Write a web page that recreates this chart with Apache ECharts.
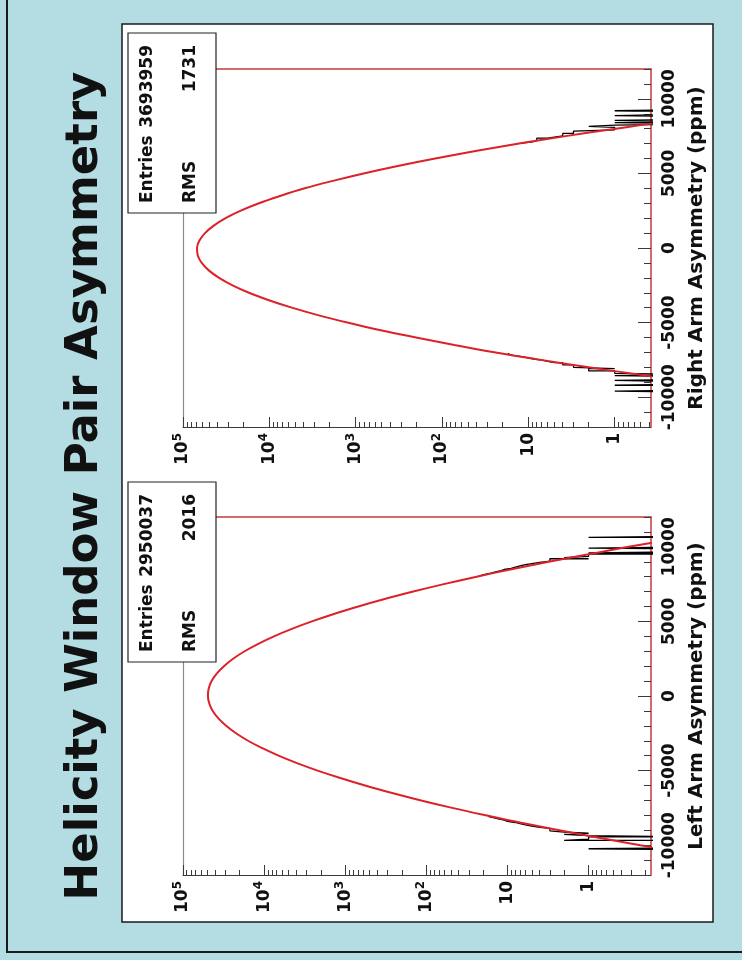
<!DOCTYPE html>
<html>
<head>
<meta charset="utf-8">
<script src="https://cdn.jsdelivr.net/npm/echarts@6/dist/echarts.min.js"></script>
<style>
html,body{margin:0;padding:0;background:#b4dde3;}
#c{width:742px;height:960px;}
</style>
</head>
<body>
<div id="c"></div>
<script>
// ---------- text ----------
const pageTitle = 'Helicity Window Pair Asymmetry';
const rightAxisTitle = 'Right Arm Asymmetry (ppm)';
const leftAxisTitle = 'Left Arm Asymmetry (ppm)';
const rightStats = { entries: '3693959', rms: '1731' };
const leftStats = { entries: '2950037', rms: '2016' };

// ---------- tick values ----------
const asymMajorTicks = [-10000, -5000, 0, 5000, 10000];
const asymMinorTicks = [-12000, -11000, -10000, -9000, -8000, -7000, -6000, -5000, -4000, -3000, -2000, -1000,
  0, 1000, 2000, 3000, 4000, 5000, 6000, 7000, 8000, 9000, 10000, 11000, 12000];
const logDecadeTicks = [1, 10, 100, 1000, 10000, 100000];
const logMinorTicks = [0.2, 0.3, 0.4, 0.5, 0.6, 0.7, 0.8, 0.9,
  2, 3, 4, 5, 6, 7, 8, 9,
  20, 30, 40, 50, 60, 70, 80, 90,
  200, 300, 400, 500, 600, 700, 800, 900,
  2000, 3000, 4000, 5000, 6000, 7000, 8000, 9000,
  20000, 30000, 40000, 50000, 60000, 70000, 80000, 90000];
const asymRange = [-12000, 12000];
const rightCountRange = [0.38, 100000];
const leftCountRange = [0.17, 100000];

// ---------- fit curves ----------
const rightFitAsym = [-9500, -9000, -8500, -8000, -7500, -7000, -6500, -6000, -5500, -5000, -4500, -4000, -3500,
  -3000, -2500, -2000, -1500, -1000, -500, 0, 500, 1000, 1500, 2000, 2500, 3000, 3500, 4000, 4500, 5000,
  5500, 6000, 6500, 7000, 7500, 8000, 8500, 9000];
const rightFitCounts = [0.025, 0.12, 0.5, 2.0, 7.1, 24, 72, 200, 530, 1250, 2740, 5500, 10100,
  17200, 26700, 38200, 50300, 60700, 67400, 68800, 64500, 55600, 44000, 32100, 21400, 13200, 7400, 3900, 1840, 810,
  325, 120, 41, 12.8, 3.7, 0.97, 0.24, 0.05];

const leftFitAsym = [-11000, -10500, -10000, -9500, -9000, -8500, -8000, -7500, -7000, -6500, -6000, -5500, -5000,
  -4500, -4000, -3500, -3000, -2500, -2000, -1500, -1000, -500, 0, 500, 1000, 1500, 2000, 2500, 3000, 3500,
  4000, 4500, 5000, 5500, 6000, 6500, 7000, 7500, 8000, 8500, 9000, 9500, 10000, 10500, 11000];
const leftFitCounts = [0.018, 0.065, 0.23, 0.75, 2.3, 6.8, 18.5, 48, 116, 264, 570, 1150, 2190,
  3940, 6640, 10500, 15800, 22200, 29400, 36600, 43000, 47400, 49300, 48200, 44400, 38400, 31300, 24100, 17400, 11800,
  7560, 4550, 2580, 1380, 690, 327, 145, 61, 24, 8.9, 3.1, 1.0, 0.32, 0.092, 0.025];

// ---------- histogram tails (80 ppm bins) ----------
const binWidth = 80;
const rightTopTailStart = 7040;
const rightTopTailCounts = [12, 9, 8, 8, 6, 5, 4, 4, 3, 3, 3, 1, 1, 1, 2, 1, 0, 1, 0, 1, 0, 0, 0, 1, 0, 0, 0, 1, 0];
const rightBottomTailStart = -9680;
const rightBottomTailCounts = [0, 1, 0, 0, 0, 0, 1, 0, 0, 0, 1, 0, 0, 0, 1, 0, 1, 1, 2, 2, 1, 3, 3, 4, 4, 5, 6, 7, 9, 10, 12, 15, 17];
const leftTopTailStart = 8000;
const leftTopTailCounts = [23, 21, 19, 16, 14, 12, 11, 9, 8, 7, 6, 5, 4, 3, 3, 1, 2, 1, 1, 0, 1, 0, 0, 0, 1, 0, 0, 0, 0, 0, 0, 0, 0, 1, 0];
const leftBottomTailStart = -10320;
const leftBottomTailCounts = [0, 1, 0, 0, 0, 0, 0, 0, 2, 1, 1, 0, 1, 2, 1, 2, 3, 3, 3, 4, 5, 6, 7, 8, 10, 11, 13, 15, 17];

// ---------- helpers ----------
const FONT = '"DejaVu Sans", "Liberation Sans", sans-serif';
const RED = '#dc2128';
const FRAME_RED = '#c23a3f';

function zipPairs(counts, asym) { return counts.map((c, i) => [c, asym[i]]); }
function stepPoints(start, counts, zeroValue) {
  const pts = [];
  counts.forEach((c, i) => {
    const v = c > 0 ? c : zeroValue;
    const lo = start + i * binWidth;
    pts.push([v, lo], [v, lo + binWidth]);
  });
  return pts;
}
function fmtLog(v) {
  const n = Math.round(Math.log10(v));
  if (n === 0) return '1';
  if (n === 1) return '10';
  return '10{sup|' + n + '}';
}

const gridRects = [
  { left: 183, top: 69, width: 468, height: 358 },
  { left: 183, top: 517, width: 468, height: 358 }
];

function makeXAxes(gridIndex, range) {
  return [
    {
      gridIndex, type: 'log', inverse: true, min: range[0], max: range[1], position: 'bottom', z: 3,
      axisLine: { show: true, onZero: false, lineStyle: { color: '#3a3a3a', width: 1 } },
      axisTick: { show: true, inside: true, length: 10, customValues: logDecadeTicks, lineStyle: { color: '#3a3a3a', width: 1 } },
      axisLabel: {
        show: true, rotate: 90, margin: 6, customValues: logDecadeTicks, formatter: fmtLog,
        color: '#111', fontFamily: FONT, fontWeight: 'bold', fontSize: 17, lineHeight: 22,
        rich: { sup: { fontFamily: FONT, fontWeight: 'bold', fontSize: 12, color: '#111', verticalAlign: 'top', lineHeight: 22 } }
      },
      splitLine: { show: false }, minorTick: { show: false }
    },
    {
      gridIndex, type: 'log', inverse: true, min: range[0], max: range[1], position: 'bottom', z: 3,
      axisLine: { show: false, onZero: false },
      axisTick: { show: true, inside: true, length: 5, customValues: logMinorTicks, lineStyle: { color: '#3a3a3a', width: 1 } },
      axisLabel: { show: false }, splitLine: { show: false }
    },
    {
      gridIndex, type: 'log', inverse: true, min: range[0], max: range[1], position: 'top', z: 3,
      axisLine: { show: true, onZero: false, lineStyle: { color: FRAME_RED, width: 1.5 } },
      axisTick: { show: false }, axisLabel: { show: false }, splitLine: { show: false }
    }
  ];
}
function makeYAxes(gridIndex, name) {
  return [
    {
      gridIndex, type: 'value', min: asymRange[0], max: asymRange[1], position: 'right', z: 3,
      axisLine: { show: true, onZero: false, lineStyle: { color: FRAME_RED, width: 1.5 } },
      axisTick: { show: true, inside: true, length: 7, customValues: asymMinorTicks, lineStyle: { color: '#3a3a3a', width: 1 } },
      axisLabel: { show: true, rotate: 90, margin: 10, customValues: asymMajorTicks, color: '#111',
        formatter: v => String(v), fontFamily: FONT, fontWeight: 'bold', fontSize: 17 },
      name: name, nameLocation: 'middle', nameRotate: 90, nameGap: 36,
      nameTextStyle: { color: '#111', fontFamily: FONT, fontWeight: 'bold', fontSize: 20 },
      splitLine: { show: false }
    },
    {
      gridIndex, type: 'value', min: asymRange[0], max: asymRange[1], position: 'right', z: 3,
      axisLine: { show: false, onZero: false },
      axisTick: { show: true, inside: true, length: 13, customValues: asymMajorTicks, lineStyle: { color: '#3a3a3a', width: 1 } },
      axisLabel: { show: false }, splitLine: { show: false }
    },
    {
      gridIndex, type: 'value', min: asymRange[0], max: asymRange[1], position: 'left', z: 3,
      axisLine: { show: true, onZero: false, lineStyle: { color: '#8a8a8a', width: 1.2 } },
      axisTick: { show: false }, axisLabel: { show: false }, splitLine: { show: false }
    }
  ];
}

function fitSeries(xi, yi, counts, asym) {
  return { type: 'line', xAxisIndex: xi, yAxisIndex: yi, data: zipPairs(counts, asym), showSymbol: false,
    smooth: 0.4, clip: true, z: 4, lineStyle: { color: RED, width: 2 }, silent: true };
}
function histSeries(xi, yi, start, counts, zeroValue) {
  return { type: 'line', xAxisIndex: xi, yAxisIndex: yi, data: stepPoints(start, counts, zeroValue), showSymbol: false,
    clip: true, z: 3, lineStyle: { color: '#000', width: 1.3 }, silent: true };
}

function statsBox(top, stats) {
  const left = 128, w = 88, h = 180;
  const tStyle = { font: 'bold 17px ' + FONT, fill: '#111', verticalAlign: 'middle' };
  return {
    type: 'group', z: 50,
    children: [
      { type: 'rect', shape: { x: left, y: top, width: w, height: h }, style: { fill: '#fff', stroke: '#222', lineWidth: 1.2 }, z: 50 },
      { type: 'text', x: 148, y: top + h - 10, rotation: Math.PI / 2, z: 51, style: Object.assign({ text: 'Entries', align: 'left' }, tStyle) },
      { type: 'text', x: 148, y: top + 12, rotation: Math.PI / 2, z: 51, style: Object.assign({ text: stats.entries, align: 'right' }, tStyle) },
      { type: 'text', x: 191, y: top + h - 10, rotation: Math.PI / 2, z: 51, style: Object.assign({ text: 'RMS', align: 'left' }, tStyle) },
      { type: 'text', x: 191, y: top + 12, rotation: Math.PI / 2, z: 51, style: Object.assign({ text: stats.rms, align: 'right' }, tStyle) }
    ]
  };
}

const chart = echarts.init(document.getElementById('c'), null, { renderer: 'canvas' });
chart.setOption({
  animation: false,
  backgroundColor: '#b4dde3',
  graphic: [
    { type: 'rect', z: -20, shape: { x: 7, y: -10, width: 740, height: 962 }, style: { fill: 'transparent', stroke: '#1a1a1a', lineWidth: 2 } },
    { type: 'rect', z: -19, shape: { x: 122, y: 24, width: 591, height: 898 }, style: { fill: '#ffffff', stroke: '#1a1a1a', lineWidth: 1.5 } },
    { type: 'text', z: 5, x: 85, y: 486, rotation: Math.PI / 2,
      style: { text: pageTitle, font: 'bold 45px ' + FONT, fill: '#111', align: 'center', verticalAlign: 'middle' } },
    statsBox(33, rightStats),
    statsBox(482, leftStats)
  ],
  grid: gridRects.map(g => Object.assign({ show: false, containLabel: false }, g)),
  xAxis: makeXAxes(0, rightCountRange).concat(makeXAxes(1, leftCountRange)),
  yAxis: makeYAxes(0, rightAxisTitle).concat(makeYAxes(1, leftAxisTitle)),
  series: [
    histSeries(0, 0, rightTopTailStart, rightTopTailCounts, rightCountRange[0] / 4),
    histSeries(0, 0, rightBottomTailStart, rightBottomTailCounts, rightCountRange[0] / 4),
    fitSeries(0, 0, rightFitCounts, rightFitAsym),
    histSeries(3, 3, leftTopTailStart, leftTopTailCounts, leftCountRange[0] / 4),
    histSeries(3, 3, leftBottomTailStart, leftBottomTailCounts, leftCountRange[0] / 4),
    fitSeries(3, 3, leftFitCounts, leftFitAsym)
  ]
});
</script>
</body>
</html>
